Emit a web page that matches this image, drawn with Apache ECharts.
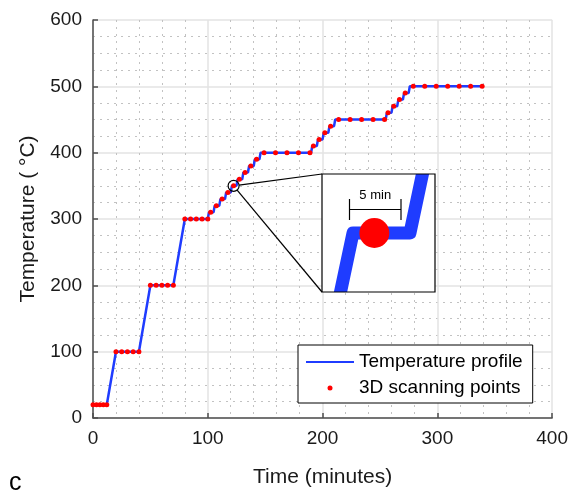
<!DOCTYPE html>
<html>
<head>
<meta charset="utf-8">
<script src="https://cdn.jsdelivr.net/npm/echarts@6/dist/echarts.min.js"></script>
<style>
html, body { margin: 0; padding: 0; background: #fff; }
#chart { width: 571px; height: 493px; }
</style>
</head>
<body>
<div id="chart"></div>
<script>
// temperature profile (corner points of the heating schedule)
const profile_time = [0, 12, 20, 40, 50, 70, 80, 100,
  101, 105, 106, 110, 111, 115, 116, 120, 121, 125, 126, 130, 131, 135, 136, 140, 141, 145, 146,
  190, 191, 195, 196, 200, 201, 205, 206, 210, 211,
  255, 256, 260, 261, 265, 266, 270, 271, 275, 276, 339];
const profile_temp = [20, 20, 100, 100, 200, 200, 300, 300,
  310, 310, 320, 320, 330, 330, 340, 340, 350, 350, 360, 360, 370, 370, 380, 380, 390, 390, 400,
  400, 410, 410, 420, 420, 430, 430, 440, 440, 450,
  450, 460, 460, 470, 470, 480, 480, 490, 490, 500, 500];

// 3D scanning points
const scan_time = [0, 3, 6, 9, 12, 20, 25, 30, 35, 40, 50, 55, 60, 65, 70, 80, 85, 90, 95, 100,
  102.5, 107.5, 112.5, 117.5, 122.5, 127.5, 132.5, 137.5, 142.5,
  149, 159, 169, 179, 189, 192, 197, 202, 207,
  214, 224, 234, 244, 254, 257, 262, 267, 272,
  279, 289, 299, 309, 319, 329, 339];
const scan_temp = [20, 20, 20, 20, 20, 100, 100, 100, 100, 100, 200, 200, 200, 200, 200, 300, 300, 300, 300, 300,
  310, 320, 330, 340, 350, 360, 370, 380, 390,
  400, 400, 400, 400, 400, 410, 420, 430, 440,
  450, 450, 450, 450, 450, 460, 470, 480, 490,
  500, 500, 500, 500, 500, 500, 500];

const zoom_index = 24; // the scan point shown in the inset
const x_range = [0, 400];
const y_range = [0, 600];
const inset_x = [119.28, 126.3];
const inset_y = [342.2, 357.8];

const FONT = "'Liberation Sans', Arial, Helvetica, sans-serif";
const blue = '#1f3cff';
const red = '#ff0000';
const axis_color = '#4d4d4d';
const inset_lw = 13;
const inset = { left: 328.5, top: 180.5, width: 100, height: 105 }; // plot area, box = area + lw/2

const profile = profile_time.map((t, i) => [t, profile_temp[i]]);
const scans = scan_time.map((t, i) => [t, scan_temp[i]]);
const zoom_pt = [scan_time[zoom_index], scan_temp[zoom_index]];

const chart = echarts.init(document.getElementById('chart'));

chart.setOption({
  animation: false,
  backgroundColor: '#fff',
  textStyle: { fontFamily: FONT },
  grid: [
    { left: 93, right: 16, top: 20, bottom: 68 },
    { left: inset.left, top: inset.top, width: inset.width, height: inset.height, show: false }
  ],
  xAxis: [
    {
      type: 'value', min: x_range[0], max: x_range[1], interval: 100,
      name: 'Time (minutes)', nameLocation: 'middle', nameGap: 49,
      nameTextStyle: { fontSize: 21, color: '#1a1a1a', fontFamily: FONT },
      axisLine: { show: true, onZero: false, lineStyle: { color: axis_color, width: 1.5 } },
      axisTick: { show: true, inside: true, length: 5, lineStyle: { color: axis_color, width: 1.5 } },
      axisLabel: { fontSize: 19, color: '#1a1a1a', margin: 11, fontFamily: FONT },
      splitLine: { show: true, lineStyle: { color: '#e3e3e3', width: 1.5 } },
      minorTick: { show: false, splitNumber: 5 },
      minorSplitLine: { show: true, lineStyle: { color: '#c2c2c2', width: 1, type: [2, 5] } }
    },
    { gridIndex: 1, type: 'value', min: inset_x[0], max: inset_x[1], show: false }
  ],
  yAxis: [
    {
      type: 'value', min: y_range[0], max: y_range[1], interval: 100,
      name: 'Temperature ( °C)', nameLocation: 'middle', nameGap: 54,
      nameTextStyle: { fontSize: 21, color: '#1a1a1a', fontFamily: FONT },
      axisLine: { show: true, onZero: false, lineStyle: { color: axis_color, width: 1.5 } },
      axisTick: { show: true, inside: true, length: 5, lineStyle: { color: axis_color, width: 1.5 } },
      axisLabel: { fontSize: 19, color: '#1a1a1a', margin: 11, fontFamily: FONT },
      splitLine: { show: true, lineStyle: { color: '#e3e3e3', width: 1.5 } },
      minorTick: { show: false, splitNumber: 4 },
      minorSplitLine: { show: true, lineStyle: { color: '#c2c2c2', width: 1, type: [2, 5] } }
    },
    { gridIndex: 1, type: 'value', min: inset_y[0], max: inset_y[1], show: false }
  ],
  legend: {
    orient: 'vertical', left: 298, top: 345,
    padding: [7, 10, 5, 7], itemGap: 6, itemWidth: 48, itemHeight: 5,
    backgroundColor: '#fff', borderColor: '#000', borderWidth: 1,
    textStyle: { fontSize: 19, color: '#000', lineHeight: 20, fontFamily: FONT },
    selectedMode: false,
    data: [
      { name: 'Temperature profile', itemStyle: { opacity: 0 } },
      { name: '3D scanning points' }
    ]
  },
  series: [
    {
      name: 'Temperature profile', type: 'line', data: profile, symbol: 'none',
      lineStyle: { color: blue, width: 2.5 }, itemStyle: { color: blue }, z: 2
    },
    {
      name: '3D scanning points', type: 'scatter', data: scans, symbolSize: 5,
      itemStyle: { color: red, opacity: 1 }, z: 3
    },
    {
      type: 'scatter', data: [zoom_pt], symbolSize: 11, silent: true,
      itemStyle: { color: 'rgba(0,0,0,0)', borderColor: '#000', borderWidth: 1.2, opacity: 1 }, z: 4
    },
    {
      type: 'line', xAxisIndex: 1, yAxisIndex: 1, data: profile, symbol: 'none', silent: true,
      lineStyle: { color: blue, width: inset_lw, join: 'round' }, z: 11
    },
    {
      type: 'scatter', xAxisIndex: 1, yAxisIndex: 1, data: scans, symbolSize: 30, silent: true,
      itemStyle: { color: red, opacity: 1 }, z: 12
    }
  ]
});

// inset box and connectors
const box = {
  x: inset.left - inset_lw / 2, y: inset.top - inset_lw / 2,
  w: inset.width + inset_lw, h: inset.height + inset_lw
};
const c = chart.convertToPixel({ xAxisIndex: 0, yAxisIndex: 0 }, zoom_pt);
function edge(tx, ty) {
  const dx = tx - c[0], dy = ty - c[1], d = Math.hypot(dx, dy);
  return [c[0] + dx / d * 5.5, c[1] + dy / d * 5.5];
}
const up = edge(box.x, box.y);
const lo = edge(box.x, box.y + box.h);
const lineStyle = { stroke: '#000', lineWidth: 1.2 };

// "5 min" bracket, placed inside the box
const bx0 = box.x + 27.5, bx1 = box.x + 79, by = box.y + 35.5;

chart.setOption({
  graphic: [
    { type: 'rect', z: 10, silent: true, shape: { x: box.x, y: box.y, width: box.w, height: box.h }, style: { fill: '#fff' } },
    { type: 'rect', z: 13, silent: true, shape: { x: box.x, y: box.y, width: box.w, height: box.h }, style: { fill: null, stroke: '#000', lineWidth: 1.2 } },
    { type: 'line', z: 13, silent: true, shape: { x1: up[0], y1: up[1], x2: box.x, y2: box.y }, style: lineStyle },
    { type: 'line', z: 13, silent: true, shape: { x1: lo[0], y1: lo[1], x2: box.x, y2: box.y + box.h }, style: lineStyle },
    { type: 'line', z: 13, silent: true, shape: { x1: bx0, y1: by, x2: bx1, y2: by }, style: lineStyle },
    { type: 'line', z: 13, silent: true, shape: { x1: bx0, y1: by - 10.5, x2: bx0, y2: by + 10.5 }, style: lineStyle },
    { type: 'line', z: 13, silent: true, shape: { x1: bx1, y1: by - 10.5, x2: bx1, y2: by + 10.5 }, style: lineStyle },
    { type: 'text', z: 13, silent: true, x: (bx0 + bx1) / 2, y: by - 14,
      style: { text: '5 min', font: '13px ' + FONT, fill: '#000', align: 'center', verticalAlign: 'middle' } },
    { type: 'text', silent: true, x: 9, y: 483,
      style: { text: 'c', font: '25px ' + FONT, fill: '#000', align: 'left', verticalAlign: 'middle' } }
  ]
});
</script>
</body>
</html>
